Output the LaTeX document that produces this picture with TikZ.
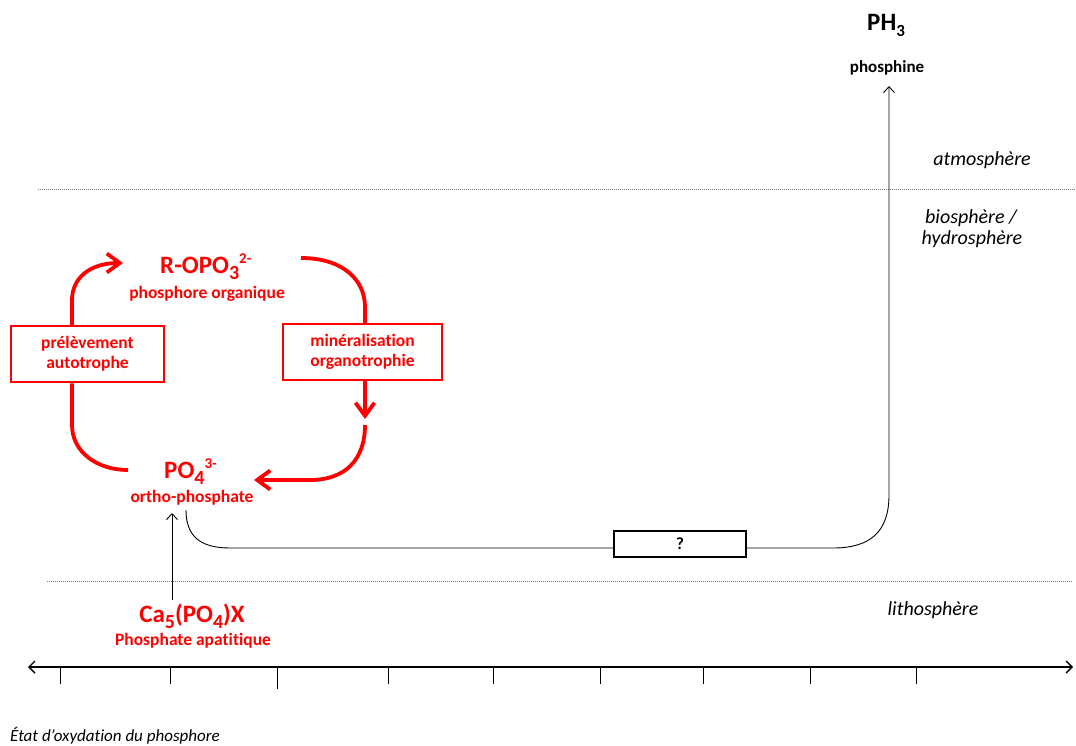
\documentclass[tikz,border=0pt]{standalone}
\usepackage{fontspec}
\setmainfont{Carlito}[Ligatures=NoCommon]
\usetikzlibrary{arrows.meta}
\definecolor{pred}{RGB}{255,0,0}
\definecolor{dotgray}{RGB}{120,120,120}
\newcommand\fsz[2]{\fontsize{#1}{#2}\selectfont}
\newcommand\subtx[1]{\raisebox{-6pt}{\fsz{20}{20}#1}}
\newcommand\suptx[1]{\raisebox{10pt}{\fsz{15}{15}#1}}
\begin{document}
\begin{tikzpicture}[x=1pt,y=-1pt,
  formula/.style={font=\fsz{25}{30}\bfseries, text=pred, inner sep=0pt},
  subname/.style={font=\fsz{17.5}{21}\bfseries, text=pred, inner sep=0pt},
  sphere/.style={font=\fsz{20}{24}\itshape, inner sep=0pt, align=center},
  procbox/.style={draw=pred, line width=2.5pt, text=pred, font=\fsz{17.5}{20}\bfseries,
     align=center, inner sep=0pt, fill=white},
  cyc/.style={draw=pred, line width=3.8pt},
  cycarrow/.style={cyc, -{Straight Barb[length=13pt,width=19pt]}},
  thinarrow/.style={draw=black, line width=0.9pt, -{Straight Barb[length=6pt,width=11pt]}},
  level/.style={draw=dotgray, line width=1pt, dash pattern=on 1pt off 1pt},
  tick/.style={draw=black, line width=1pt}
]
\useasboundingbox (0,0) rectangle (1076,745);

% levels
\coordinate (la1) at (38,189); \coordinate (la2) at (1076,189);
\coordinate (lb1) at (47,581); \coordinate (lb2) at (1073,581);
\draw[level] (la1) -- (la2);
\draw[level] (lb1) -- (lb2);

% sphere labels
\node[sphere, anchor=base] (atm) at (982,165) {atmosphère};
\node[sphere, anchor=base] (bio) at (971,223) {biosphère /};
\node[sphere, anchor=base] (hyd) at (972,244) {hydrosphère};
\node[sphere, anchor=base] (lit) at (933,615) {lithosphère};

% phosphine
\node[font=\fsz{25}{30}\bfseries, inner sep=0pt, anchor=base west] (ph3) at (867,30) {PH\raisebox{-6pt}{\fsz{17}{17}3}};
\node[font=\fsz{17}{20}\bfseries, inner sep=0pt, anchor=base] (phn) at (887,72) {phosphine};

% red species
\node[formula, anchor=base west] (ropo) at (160,273) {R-OPO\subtx{3}\suptx{2-}};
\node[subname, anchor=base] (porg) at (207,298) {phosphore organique};
\node[formula, anchor=base west] (po4) at (164,478) {PO\subtx{4}\suptx{3-}};
\node[subname, anchor=base] (orth) at (192,502) {ortho-phosphate};
\node[formula, anchor=base] (ca) at (192,622) {Ca\subtx{5}(PO\subtx{4})X};
\node[subname, anchor=base] (apa) at (193,645) {Phosphate apatitique};

% process boxes
\node[procbox, minimum width=153pt, minimum height=56pt] (lbox) at (87.5,354) {prélèvement\\autotrophe};
\node[procbox, minimum width=159pt, minimum height=56pt] (rbox) at (362.5,352) {minéralisation\\organotrophie};
\node[draw=black, line width=1.3pt, minimum width=132pt, minimum height=26pt, inner sep=0pt,
      font=\fsz{17}{20}\bfseries] (qbox) at (680,544) {?};

% red cycle coordinates
\coordinate (c1) at (128,470);
\coordinate (c2) at (72,425);
\coordinate (c3) at (72,300);
\coordinate (c4) at (123,263);
\coordinate (c5) at (301,258);
\coordinate (c6) at (365,307);
\coordinate (c7) at (365,419);
\coordinate (c8) at (365,425);
\coordinate (c9) at (310,480);
\coordinate (c10) at (254,480);

\draw[cyc] (c1) .. controls (97,470) and (72,452) .. (c2) -- (c2 |- lbox.south);
\draw[cycarrow] (c3 |- lbox.north) -- (c3) .. controls (72,278) and (90,263) .. (c4);
\draw[cyc] (c5) .. controls (343,258) and (365,280) .. (c6) -- (c6 |- rbox.north);
\draw[cycarrow] (c7 |- rbox.south) -- (c7);
\draw[cycarrow] (c8) .. controls (365,460) and (345,480) .. (c9) -- (c10);

% black paths
\coordinate (castart) at (172,600);
\coordinate (catip) at (172,513);
\draw[thinarrow] (castart) -- (catip);

\coordinate (p1) at (186,510);
\coordinate (p2) at (230,548);
\coordinate (p3) at (833,548);
\coordinate (p4) at (889,495);
\coordinate (p5) at (889,86);
\draw[line width=0.9pt] (p1) .. controls (186,536) and (200,548) .. (p2) -- (p2 -| qbox.west);
\draw[thinarrow] (p3 -| qbox.east) -- (p3) .. controls (870,548) and (889,532) .. (p4) -- (p5);

% axis
\coordinate (ax1) at (28,667); \coordinate (ax2) at (1073,667);
\draw[line width=1.4pt, {Straight Barb[length=6pt,width=12pt]}-{Straight Barb[length=6pt,width=12pt]}] (ax1) -- (ax2);
\foreach \tx in {60,170,388,493,600,703,810,916} {
  \coordinate (t\tx) at (\tx,667);
  \draw[tick] (t\tx) -- ++(0,17);
}
\coordinate (t277) at (277,667);
\draw[tick] (t277) -- ++(0,22);

\node[font=\fsz{17}{20}\itshape, inner sep=0pt, anchor=base west] (axlab) at (10,741) {État d’oxydation du phosphore};
\end{tikzpicture}
\end{document}
